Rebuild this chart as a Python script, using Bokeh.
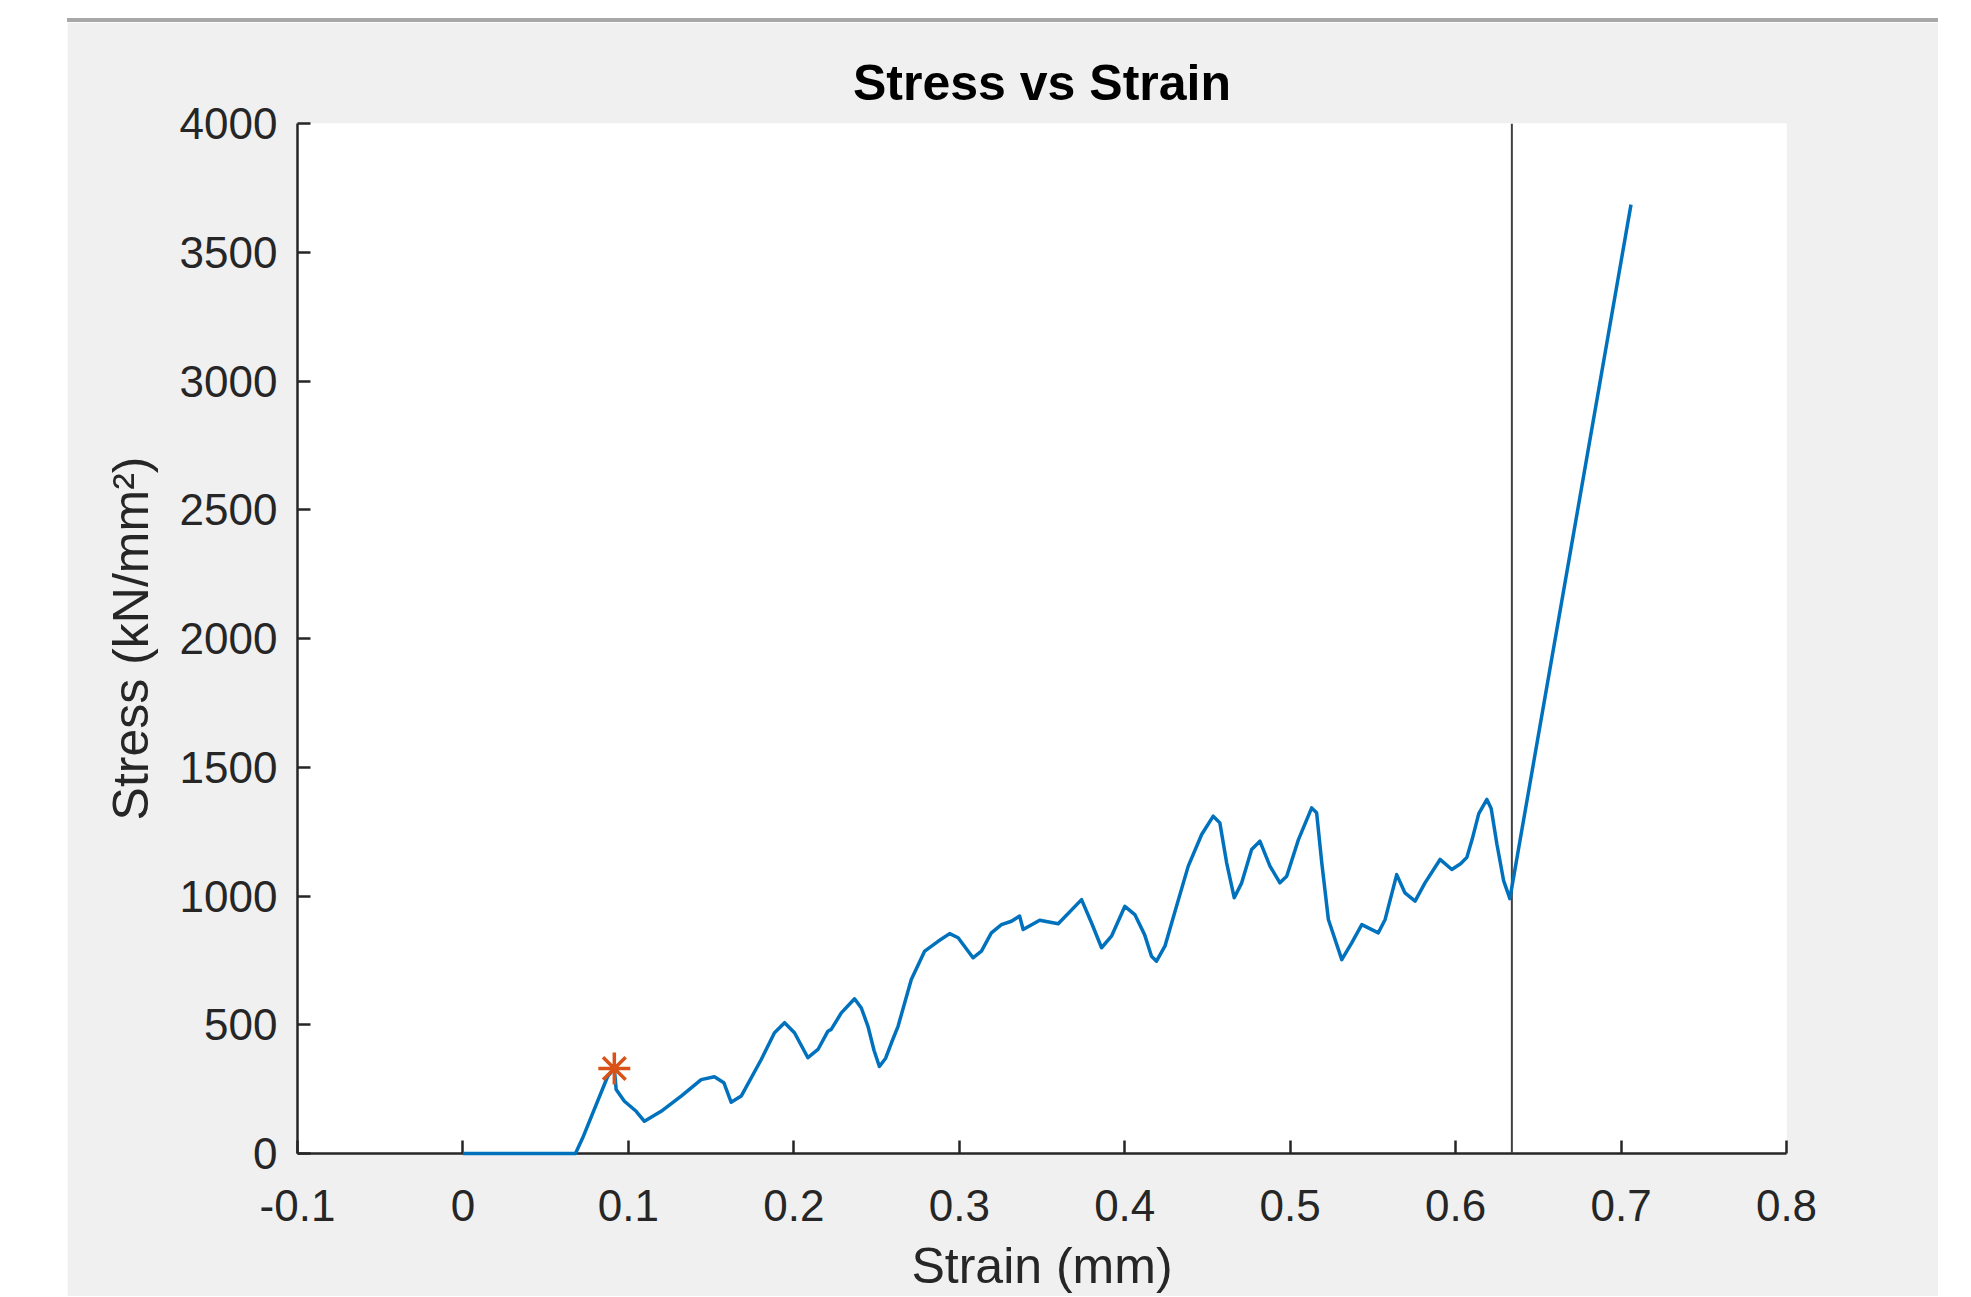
from bokeh.plotting import figure
from bokeh.models import Span, FixedTicker, Range1d
from bokeh.embed import file_html
from bokeh.resources import INLINE

# ---- data ----
strain = [0.0, 0.068, 0.0724, 0.0875, 0.0915, 0.0926, 0.0976, 0.1047, 0.1097, 0.1198,
          0.1319, 0.1440, 0.1520, 0.1577, 0.1621, 0.1682, 0.1803, 0.1883, 0.1944, 0.2004,
          0.2085, 0.2146, 0.2206, 0.2226, 0.2287, 0.2367, 0.2408, 0.2448, 0.2485, 0.2517,
          0.2555, 0.2590, 0.2630, 0.2710, 0.2791, 0.2872, 0.2942, 0.2993, 0.3083, 0.3134,
          0.3194, 0.3255, 0.3315, 0.3365, 0.3386, 0.3486, 0.3598, 0.3739, 0.3799, 0.3860,
          0.3920, 0.4001, 0.4061, 0.4120, 0.4162, 0.4192, 0.4243, 0.4313, 0.4384, 0.4465,
          0.4535, 0.4575, 0.4616, 0.4662, 0.4707, 0.4767, 0.4817, 0.4878, 0.4938, 0.4979,
          0.5050, 0.5130, 0.5160, 0.5191, 0.5231, 0.5312, 0.5372, 0.5433, 0.5533, 0.5574,
          0.5644, 0.5694, 0.5755, 0.5815, 0.5906, 0.5977, 0.6030, 0.6068, 0.6100, 0.6140,
          0.6189, 0.6215, 0.6250, 0.6290, 0.6328, 0.7060]
stress = [0, 0, 61, 300, 330, 249, 203, 164, 125, 164,
          223, 287, 298, 275, 199, 223, 365, 469, 508, 469,
          372, 404, 475, 482, 546, 601, 565, 494, 400, 338,
          370, 430, 494, 676, 786, 824, 854, 838, 760, 786,
          857, 889, 902, 922, 870, 906, 892, 986, 896, 799,
          844, 960, 928, 850, 766, 747, 805, 960, 1116, 1239,
          1310, 1284, 1129, 993, 1051, 1181, 1213, 1116, 1051, 1077,
          1219, 1342, 1323, 1129, 909, 753, 818, 889, 857, 909,
          1083, 1012, 980, 1051, 1142, 1103, 1125, 1150, 1220, 1320,
          1375, 1340, 1200, 1060, 990, 3685]

peak_strain = [0.0915]
peak_stress = [330]
vline_strain = 0.634

x_ticks = [-0.1, 0.0, 0.1, 0.2, 0.3, 0.4, 0.5, 0.6, 0.7, 0.8]
x_tick_labels = ["-0.1", "0", "0.1", "0.2", "0.3", "0.4", "0.5", "0.6", "0.7", "0.8"]
y_ticks = [0, 500, 1000, 1500, 2000, 2500, 3000, 3500, 4000]

FONT = "Liberation Sans"
AX = "#262626"

p = figure(width=1871, height=1274,
           x_range=Range1d(-0.1, 0.8), y_range=Range1d(0, 4000),
           output_backend="svg", toolbar_location=None,
           title="Stress vs Strain")
p.margin = (22, 0, 0, 67)
p.styles = {"box-shadow": "0px -4px 0px #A8A8A8"}

p.min_border_left = 230
p.min_border_right = 152
p.min_border_top = 101
p.min_border_bottom = 142

p.border_fill_color = "#F0F0F0"
p.background_fill_color = "white"
p.outline_line_color = None
p.xgrid.visible = False
p.ygrid.visible = False

p.title.text_font = FONT
p.title.text_font_size = "50px"
p.title.text_font_style = "bold"
p.title.text_color = "black"
p.title.align = "center"
p.title.standoff = 26

for ax in (p.xaxis[0], p.yaxis[0]):
    ax.axis_line_color = AX
    ax.axis_line_width = 2.5
    ax.major_tick_line_color = AX
    ax.major_tick_line_width = 2.5
    ax.major_tick_in = 13
    ax.major_tick_out = 0
    ax.minor_tick_line_color = None
    ax.major_label_text_font = FONT
    ax.major_label_text_font_size = "44px"
    ax.major_label_text_color = AX
    ax.axis_label_text_font = FONT
    ax.axis_label_text_font_size = "50px"
    ax.axis_label_text_font_style = "normal"
    ax.axis_label_text_color = AX

p.xaxis[0].ticker = FixedTicker(ticks=x_ticks)
p.xaxis[0].major_label_overrides = {t: l for t, l in zip(x_ticks, x_tick_labels)}
p.xaxis[0].major_label_standoff = 36
p.xaxis[0].axis_label = "Strain (mm)"
p.xaxis[0].axis_label_standoff = 14

p.yaxis[0].ticker = FixedTicker(ticks=y_ticks)
p.yaxis[0].major_label_standoff = 20
p.yaxis[0].axis_label = "Stress (kN/mm²)"
p.yaxis[0].axis_label_standoff = 18

p.add_layout(Span(location=vline_strain, dimension="height",
                  line_color="#404040", line_width=2))

p.line(strain, stress, line_color="#0072BD", line_width=3.5,
       line_join="round", level="overlay")
p.scatter(peak_strain, peak_stress, marker="asterisk", size=32,
          line_color="#D95319", line_width=3.5, level="overlay")

open("out.html", "w").write(file_html(p, INLINE))
